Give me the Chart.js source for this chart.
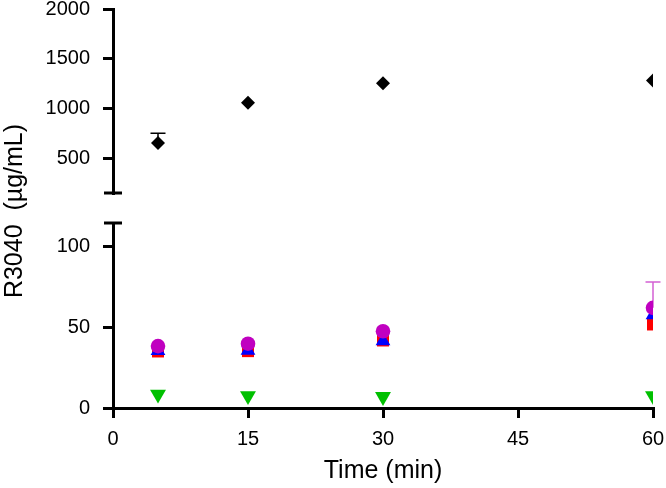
<!DOCTYPE html>
<html>
<head>
<meta charset="utf-8">
<script src="https://cdn.jsdelivr.net/npm/chart.js@4/dist/chart.umd.min.js"></script>
<style>
html, body { margin: 0; padding: 0; background: #fff; }
#wrap { position: relative; width: 666px; height: 488px; }
#wrap canvas { position: absolute; left: 0; top: 0; }
</style>
</head>
<body>
<div id="wrap">
    <canvas id="bottomChart" width="666" height="488"></canvas>
    <canvas id="topChart" width="666" height="488"></canvas>
</div>
<script>
/* ============================================================
   DATOS
============================================================ */

const times       = [5, 15, 30, 60];
const xTicks      = [0, 15, 30, 45, 60];
const topTicks    = [500, 1000, 1500, 2000];
const bottomTicks = [0, 50, 100];

const blackVals   = [656, 1061, 1256, 1283];
const blackErr    = [97, 0, 0, 0];
const magentaVals = [38.3, 39.8, 47.5, 62];
const magentaErr  = [0, 0, 0, 16];
const blueVals    = [35.5, 35.6, 41.4, 57.5];
const redVals     = [35, 35.2, 41.8, 51.7];
const greenVals   = [8.5, 7.5, 7, 7.5];

const xTitle = "Time (min)";
const yTitle = "R3040  (µg/mL)";

const FONT = '"Liberation Sans", Arial, sans-serif';
const pts = vals => times.map((t, i) => ({ x: t, y: vals[i] }));

/* ============================================================
   PLUGINS
============================================================ */

// barras de error (solo hacia arriba)
const errorBars = {
    id: "errorBars",
    beforeDatasetsDraw(chart) {
        const ctx = chart.ctx;
        const xs = chart.scales.x, ys = chart.scales.y;
        chart.data.datasets.forEach(ds => {
            if (!ds.errUp) return;
            ds.data.forEach((p, j) => {
                const e = ds.errUp[j];
                if (!e) return;
                const x = xs.getPixelForValue(p.x);
                const y0 = ys.getPixelForValue(p.y);
                const y1 = ys.getPixelForValue(p.y + e);
                ctx.save();
                ctx.strokeStyle = ds.errColor;
                ctx.lineWidth = 1.5;
                ctx.beginPath();
                ctx.moveTo(x, y0);
                ctx.lineTo(x, y1);
                ctx.moveTo(x - 7.5, y1);
                ctx.lineTo(x + 7.5, y1);
                ctx.stroke();
                ctx.restore();
            });
        });
    }
};

// marca de corte del eje
const axisBreak = {
    id: "axisBreak",
    afterDraw(chart, args, opts) {
        const ctx = chart.ctx;
        const a = chart.chartArea;
        const y = opts.edge === "bottom" ? a.bottom : a.top;
        ctx.save();
        ctx.strokeStyle = "#000";
        ctx.lineWidth = 3;
        ctx.beginPath();
        ctx.moveTo(a.left - 9, y);
        ctx.lineTo(a.left + 9, y);
        ctx.stroke();
        ctx.restore();
    }
};

// titulo del eje Y compartido
const yTitlePlugin = {
    id: "yTitlePlugin",
    afterDraw(chart) {
        const ctx = chart.ctx;
        ctx.save();
        ctx.translate(22, 211);
        ctx.rotate(-Math.PI / 2);
        ctx.font = "25px " + FONT;
        ctx.fillStyle = "#000";
        ctx.textAlign = "center";
        ctx.textBaseline = "alphabetic";
        ctx.fillText(yTitle, 0, 0);
        ctx.restore();
    }
};

function yAxis(min, max, ticks) {
    return {
        type: "linear",
        min: min,
        max: max,
        afterBuildTicks: s => { s.ticks = ticks.map(v => ({ value: v })); },
        afterFit: s => { s.width = 113; s.paddingTop = 0; s.paddingBottom = 0; },
        border: { display: true, color: "#000", width: 3 },
        grid: { display: true, drawOnChartArea: false, drawTicks: true, tickLength: 10, color: "#000", lineWidth: 3 },
        ticks: {
            color: "#000", padding: 13,
            font: { family: FONT, size: 20, lineHeight: 1 },
            callback: v => String(v)
        }
    };
}

/* ============================================================
   GRÁFICO INFERIOR: 0 - 100
============================================================ */

new Chart(document.getElementById("bottomChart"), {
    type: "scatter",
    data: {
        datasets: [
            {
                data: pts(magentaVals), errUp: magentaErr, errColor: "#d460d4",
                pointStyle: "circle", pointRadius: 7.3,
                backgroundColor: "#c000c0", borderColor: "#c000c0", borderWidth: 0
            },
            {
                data: pts(blueVals),
                pointStyle: "triangle", pointRadius: 8.5,
                backgroundColor: "#0000ff", borderColor: "#0000ff", borderWidth: 0
            },
            {
                data: pts(redVals),
                pointStyle: "rect", pointRadius: 8.5,
                backgroundColor: "#ff0000", borderColor: "#ff0000", borderWidth: 0
            },
            {
                data: pts(greenVals),
                pointStyle: "triangle", rotation: 180, pointRadius: 9.2,
                backgroundColor: "#00c000", borderColor: "#00c000", borderWidth: 0
            }
        ]
    },
    options: {
        responsive: false,
        animation: false,
        layout: { padding: { top: 223, right: 13, bottom: 0, left: 0 } },
        plugins: {
            legend: { display: false },
            tooltip: { enabled: false },
            axisBreak: { edge: "top" }
        },
        scales: {
            x: {
                type: "linear",
                min: 0,
                max: 60,
                afterBuildTicks: s => { s.ticks = xTicks.map(v => ({ value: v })); },
                afterFit: s => { s.height = 80; s.paddingLeft = 0; s.paddingRight = 0; },
                border: { display: true, color: "#000", width: 3 },
                grid: { display: true, drawOnChartArea: false, tickLength: 10, color: "#000", lineWidth: 3 },
                ticks: { color: "#000", padding: 9, font: { family: FONT, size: 20 }, callback: v => String(v) },
                title: { display: true, text: xTitle, color: "#000", padding: { top: 0, bottom: 2 }, font: { family: FONT, size: 25 } }
            },
            y: yAxis(0, 114.5, bottomTicks)
        }
    },
    plugins: [errorBars, axisBreak, yTitlePlugin]
});

/* ============================================================
   GRÁFICO SUPERIOR: 500 - 2000
============================================================ */

new Chart(document.getElementById("topChart"), {
    type: "scatter",
    data: {
        datasets: [{
            data: pts(blackVals), errUp: blackErr, errColor: "#000",
            pointStyle: "rectRot", pointRadius: 7,
            backgroundColor: "#000", borderColor: "#000", borderWidth: 0
        }]
    },
    options: {
        responsive: false,
        animation: false,
        layout: { padding: { top: 9, right: 13, bottom: 295, left: 0 } },
        plugins: {
            legend: { display: false },
            tooltip: { enabled: false },
            axisBreak: { edge: "bottom" }
        },
        scales: {
            x: { type: "linear", min: 0, max: 60, display: false },
            y: yAxis(155, 2000, topTicks)
        }
    },
    plugins: [errorBars, axisBreak]
});
</script>
</body>
</html>
